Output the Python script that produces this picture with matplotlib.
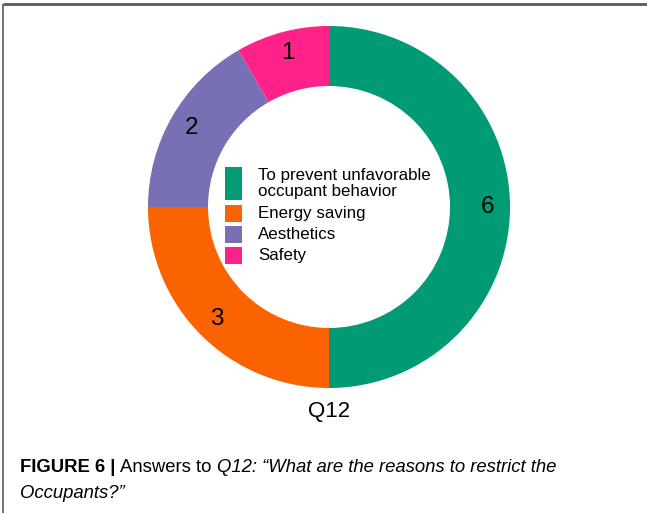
import matplotlib
matplotlib.use("Agg")
import matplotlib.pyplot as plt
from matplotlib.patches import Rectangle
import numpy as np

# survey answers, Q12
categories = ["To prevent unfavorable\noccupant behavior", "Energy saving", "Aesthetics", "Safety"]
counts = [6, 3, 2, 1]
colors = ["#009B74", "#FA6300", "#7770B4", "#FF2389"]

W, H = 647, 513
fig = plt.figure(figsize=(W / 100, H / 100), dpi=100)
ax = fig.add_axes([0, 0, 1, 1])

# donut in pixel-like coordinates (y measured from bottom)
cx, cy = 329, H - 207
R = 181
ring = 60

wedges, _ = ax.pie(counts, colors=colors, startangle=90, counterclock=False,
                   radius=R, center=(cx, cy), frame=True,
                   wedgeprops=dict(width=ring, linewidth=0))

# value labels on the ring
for w, n in zip(wedges, counts):
    mid = np.deg2rad((w.theta1 + w.theta2) / 2)
    r_lab = R - ring / 2 + 8
    ax.text(cx + r_lab * np.cos(mid), cy + r_lab * np.sin(mid), str(n),
            ha="center", va="center", fontsize=17.5, family="Liberation Sans")

# legend in the hole
y = H - 167
for lab, c in zip(categories, colors):
    n = lab.count("\n") + 1
    bh = 15.5 * n + 1.5
    ax.add_patch(Rectangle((225, y - bh), 17, bh, facecolor=c, edgecolor="none"))
    ax.text(258, y - bh / 2, lab, ha="left", va="center", fontsize=12.2,
            family="Liberation Sans", linespacing=1.08)
    y -= 17 * n + 4

ax.text(cx, H - 412, "Q12", ha="center", va="center", fontsize=16, family="Liberation Sans")

ax.set_xlim(0, W)
ax.set_ylim(0, H)
ax.set_aspect("auto")
ax.axis("off")

# frame: top and left edges
ax.plot([3, W], [H - 4, H - 4], color="#5a5a5a", lw=2, solid_capstyle="butt")
ax.plot([3, 3], [0, H - 4], color="#5a5a5a", lw=1.2, solid_capstyle="butt")

# caption with mixed styles
cap_font = ["Liberation Sans Narrow", "Liberation Sans"]
fig.canvas.draw()
renderer = fig.canvas.get_renderer()
x = 20
parts = [("FIGURE 6 | ", "bold", "normal"), ("Answers to ", "normal", "normal"),
         ("Q12: \u201cWhat are the reasons to restrict the", "normal", "italic")]
for s, wgt, sty in parts:
    t = ax.text(x, H - 468, s, ha="left", va="center", fontsize=13.3, family=cap_font,
                fontweight=wgt, fontstyle=sty)
    bb = t.get_window_extent(renderer)
    x = bb.x1
ax.text(20, H - 494, "Occupants?\u201d", ha="left", va="center", fontsize=13.3,
        family=cap_font, fontstyle="italic")

fig.savefig("out.png", dpi=100)
